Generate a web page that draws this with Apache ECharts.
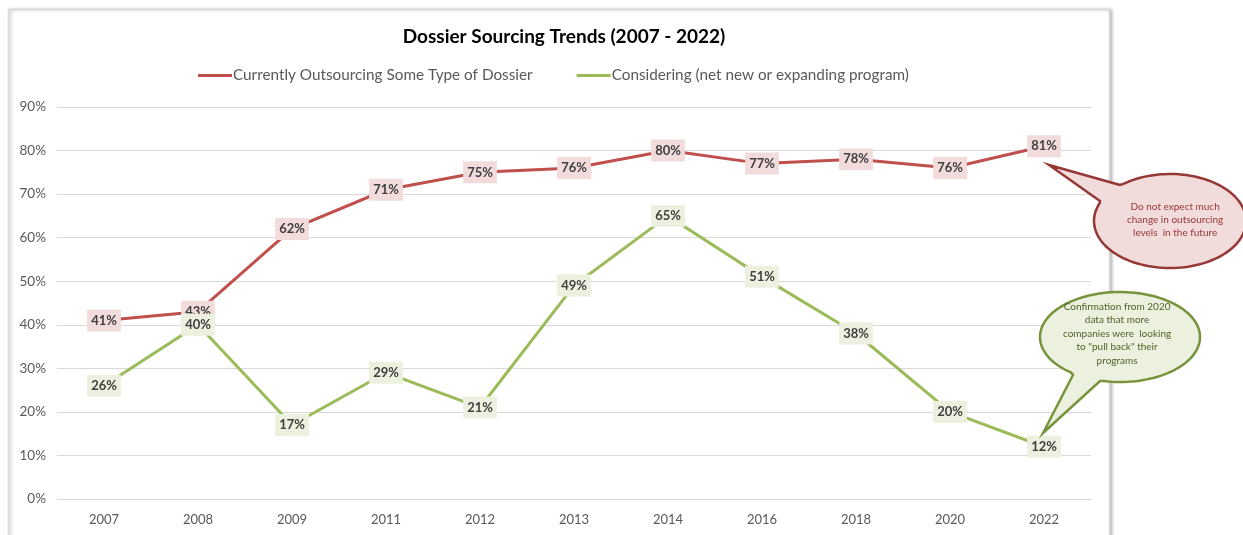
<!DOCTYPE html>
<html>
<head>
<meta charset="utf-8">
<script src="https://cdn.jsdelivr.net/npm/echarts@6/dist/echarts.min.js"></script>
<style>html,body{margin:0;padding:0;background:#fff;}#c{width:1243px;height:535px;}</style>
</head>
<body>
<div id="c"></div>
<script>
const categories = ['2007','2008','2009','2011','2012','2013','2014','2016','2018','2020','2022'];
const outsourcing = [41,43,62,71,75,76,80,77,78,76,81];
const considering = [26,40,17,29,21,49,65,51,38,20,12];
const yTicks = [0,10,20,30,40,50,60,70,80,90];

const FONT = 'Lato, "Open Sans", sans-serif';
const chart = echarts.init(document.getElementById('c'));

function callout(cx, cy, rx, ry, tip, b1, b2) {
  const a1 = Math.atan2((b1[1]-cy)/ry, (b1[0]-cx)/rx);
  const a2 = Math.atan2((b2[1]-cy)/ry, (b2[0]-cx)/rx);
  const pts = [b1, tip, b2];
  let d = a1 - a2;
  if (Math.abs(d) < Math.PI) d = d > 0 ? d - 2*Math.PI : d + 2*Math.PI;
  const n = 120;
  for (let i = 1; i < n; i++) {
    const a = a2 + d * i / n;
    pts.push([cx + rx*Math.cos(a), cy + ry*Math.sin(a)]);
  }
  return pts;
}

const redPts = callout(1170, 221, 76, 47, [1049,165], [1120,185], [1100,201]);
const greenPts = callout(1120, 337, 80, 45, [1043,433], [1073,375], [1100,381]);

const labelCommon = {
  show: true, position: 'inside', formatter: p => p.value + '%',
  fontFamily: FONT, fontWeight: 'bold', fontSize: 13, color: '#404040',
  padding: [5, 4, 4, 4]
};

chart.setOption({
  animation: false,
  title: {
    text: 'Dossier Sourcing Trends (2007 - 2022)',
    left: 559, top: 22, textAlign: 'center',
    textStyle: {fontFamily: FONT, fontSize: 19, fontWeight: 'bold', color: '#000'}
  },
  legend: {
    top: 63, left: 193, itemWidth: 34, itemHeight: 3, itemGap: 44,
    icon: 'rect',
    textStyle: {fontFamily: FONT, fontSize: 15.3, color: '#595959', padding: [0,0,0,-4]},
    data: ['Currently Outsourcing Some Type of Dossier', 'Considering (net new or expanding program)']
  },
  grid: {left: 57, right: 152, top: 107, bottom: 36, containLabel: false},
  xAxis: {
    type: 'category', data: categories, boundaryGap: true,
    axisLine: {show: false}, axisTick: {show: false},
    axisLabel: {fontFamily: FONT, fontSize: 13, color: '#595959', margin: 14}
  },
  yAxis: {
    type: 'value', min: 0, max: 90, interval: 10,
    axisLabel: {fontFamily: FONT, fontSize: 13.5, color: '#595959', margin: 11,
      formatter: v => yTicks.includes(v) ? v + '%' : ''},
    splitLine: {lineStyle: {color: '#d9d9d9', width: 1}},
    axisLine: {show: false}, axisTick: {show: false}
  },
  series: [
    {
      name: 'Currently Outsourcing Some Type of Dossier', type: 'line', data: outsourcing,
      symbol: 'circle', symbolSize: 0, showSymbol: true,
      lineStyle: {color: '#c0504d', width: 3}, itemStyle: {color: '#c0504d'},
      label: Object.assign({}, labelCommon, {backgroundColor: '#f2dcdb'}),
      z: 2
    },
    {
      name: 'Considering (net new or expanding program)', type: 'line', data: considering,
      symbol: 'circle', symbolSize: 0, showSymbol: true,
      lineStyle: {color: '#9bbb59', width: 3}, itemStyle: {color: '#9bbb59'},
      label: Object.assign({}, labelCommon, {backgroundColor: '#ebf1de'}),
      z: 3
    }
  ],
  graphic: [
    {type: 'rect', z: -10, silent: true,
      shape: {x: 8.5, y: 9.5, width: 1101, height: 540},
      style: {fill: '#fff', stroke: '#d9d9d9', lineWidth: 1.5,
        shadowColor: 'rgba(0,0,0,0.25)', shadowBlur: 3, shadowOffsetX: 2, shadowOffsetY: 0}},
    {type: 'polygon', z: 100, silent: true, shape: {points: redPts},
      style: {fill: '#f2dcdb', stroke: '#953735', lineWidth: 2.5}},
    {type: 'text', z: 101, silent: true, left: 1172 - 45, top: 200,
      style: {text: 'Do not expect much\nchange in outsourcing\nlevels  in the future',
        fontFamily: FONT, fontSize: 10, lineHeight: 13, fill: '#953735', textAlign: 'center', x: 45}},
    {type: 'polygon', z: 100, silent: true, shape: {points: greenPts},
      style: {fill: '#ebf1de', stroke: '#77933c', lineWidth: 2.5}},
    {type: 'text', z: 101, silent: true, left: 1118 - 55, top: 300,
      style: {text: 'Confirmation from 2020\ndata that more\ncompanies were  looking\nto "pull back" their\nprograms',
        fontFamily: FONT, fontSize: 10, lineHeight: 13.5, fill: '#4f6228', textAlign: 'center', x: 55}}
  ]
});
</script>
</body>
</html>
